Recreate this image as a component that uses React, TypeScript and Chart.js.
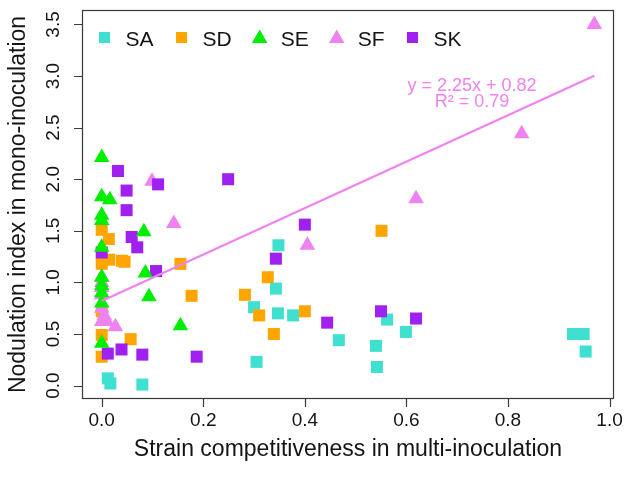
import React, { useEffect, useRef } from 'react';
import { Chart, registerables } from 'chart.js';

Chart.register(...registerables);

// ---------- data ----------
const SERIES_NAMES = ['SA', 'SD', 'SE', 'SF', 'SK'];
const SERIES_COLORS = ['#40E0D0', '#FFA500', '#00EE00', '#EE82EE', '#A020F0'];
const SERIES_SHAPES = ['rect', 'rect', 'triangle', 'triangle', 'rect'];

const SA_X = [0.012, 0.017, 0.08, 0.305, 0.30, 0.343, 0.348, 0.347, 0.377, 0.467, 0.54, 0.542, 0.562, 0.599, 0.928, 0.949, 0.953];
const SA_Y = [0.07, 0.02, 0.01, 0.23, 0.76, 0.94, 1.36, 0.70, 0.68, 0.44, 0.385, 0.18, 0.64, 0.52, 0.50, 0.50, 0.33];

const SD_X = [0, 0.014, 0.015, 0, 0.04, 0.045, 0.155, 0.177, 0, 0.057, 0, 0, 0.282, 0.327, 0.31, 0.339, 0.40, 0.551];
const SD_Y = [1.51, 1.42, 1.22, 1.18, 1.21, 1.20, 1.18, 0.87, 0.49, 0.45, 0.28, 0.72, 0.88, 1.05, 0.68, 0.50, 0.72, 1.50];

const SE_X = [0, 0, 0.016, 0, 0, 0.083, 0, 0.086, 0, 0, 0, 0.093, 0, 0.155, 0];
const SE_Y = [2.21, 1.83, 1.80, 1.65, 1.60, 1.49, 1.34, 1.09, 1.05, 0.97, 0.90, 0.86, 0.80, 0.58, 0.41];

const SF_X = [0, 0, 0, 0, 0, 0.005, 0, 0.01, 0.027, 0.099, 0.142, 0.405, 0.619, 0.827, 0.97];
const SF_Y = [1.05, 1.0, 0.95, 0.88, 0.75, 0.68, 0.62, 0.62, 0.57, 1.98, 1.57, 1.36, 1.81, 2.44, 3.5];

const SK_X = [0.032, 0.111, 0.049, 0.049, 0.059, 0.07, 0, 0.107, 0.249, 0.40, 0.343, 0.444, 0.55, 0.619, 0.012, 0.039, 0.08, 0.187];
const SK_Y = [2.08, 1.95, 1.89, 1.70, 1.44, 1.34, 1.29, 1.11, 2.0, 1.56, 1.23, 0.61, 0.72, 0.65, 0.31, 0.35, 0.30, 0.28];

const SERIES_X = [SA_X, SD_X, SE_X, SF_X, SK_X];
const SERIES_Y = [SA_Y, SD_Y, SE_Y, SF_Y, SK_Y];
const DRAW_ORDER = [4, 3, 0, 2, 1]; // lower = on top

const FIT_SLOPE = 2.25;
const FIT_INTERCEPT = 0.82;
const FIT_R2 = 0.79;
const FIT_X_RANGE = [0, 0.97];
const FIT_COLOR = '#EE82EE';

const X_TICKS = [0, 0.2, 0.4, 0.6, 0.8, 1.0];
const Y_TICKS = [0, 0.5, 1.0, 1.5, 2.0, 2.5, 3.0, 3.5];
const X_TITLE = 'Strain competitiveness in multi-inoculation';
const Y_TITLE = 'Nodulation index in mono-inoculation';

const X_MIN = -0.0388;
const X_MAX = 1.0088;
const Y_MIN = -0.13;
const Y_MAX = 3.64;

const FONT = '"Liberation Sans", Arial, sans-serif';
const INK = '#141414';

function drawMarker(ctx: CanvasRenderingContext2D, shape: string, x: number, y: number, r: number) {
  ctx.beginPath();
  if (shape === 'rect') {
    const s = Math.SQRT1_2 * r;
    ctx.rect(x - s, y - s, 2 * s, 2 * s);
  } else {
    ctx.moveTo(x, y - r);
    ctx.lineTo(x + r * Math.sin((2 * Math.PI) / 3), y + r / 2);
    ctx.lineTo(x - r * Math.sin((2 * Math.PI) / 3), y + r / 2);
    ctx.closePath();
  }
  ctx.fill();
}

const rPlotPlugin = {
  id: 'rPlot',
  afterDraw(chart: any) {
    const { ctx, chartArea: a } = chart;
    const xs = chart.scales.x;
    const ys = chart.scales.y;
    ctx.save();
    // box
    ctx.strokeStyle = '#3a3a3a';
    ctx.lineWidth = 1.2;
    ctx.strokeRect(a.left + 0.5, a.top + 0.5, a.right - a.left - 1, a.bottom - a.top - 1);
    // ticks
    ctx.beginPath();
    X_TICKS.forEach((v) => {
      const px = Math.round(xs.getPixelForValue(v)) + 0.5;
      ctx.moveTo(px, a.bottom);
      ctx.lineTo(px, a.bottom + 8);
    });
    Y_TICKS.forEach((v) => {
      const py = Math.round(ys.getPixelForValue(v)) + 0.5;
      ctx.moveTo(a.left, py);
      ctx.lineTo(a.left - 8, py);
    });
    ctx.stroke();

    // tick labels
    ctx.fillStyle = INK;
    ctx.font = `19px ${FONT}`;
    ctx.textAlign = 'center';
    ctx.textBaseline = 'middle';
    X_TICKS.forEach((v) => {
      ctx.fillText(v.toFixed(1), xs.getPixelForValue(v), a.bottom + 22);
    });
    Y_TICKS.forEach((v) => {
      ctx.save();
      ctx.translate(a.left - 28.5, ys.getPixelForValue(v));
      ctx.rotate(-Math.PI / 2);
      ctx.fillText(v.toFixed(1), 0, 0);
      ctx.restore();
    });

    // axis titles
    ctx.font = `23px ${FONT}`;
    ctx.fillText(X_TITLE, (a.left + a.right) / 2, a.bottom + 51);
    ctx.save();
    ctx.translate(a.left - 63, (a.top + a.bottom) / 2);
    ctx.rotate(-Math.PI / 2);
    ctx.fillText(Y_TITLE, 0, 0);
    ctx.restore();

    // legend
    ctx.font = `21px ${FONT}`;
    ctx.textAlign = 'left';
    let mx = 104.5;
    SERIES_NAMES.forEach((name, i) => {
      ctx.fillStyle = SERIES_COLORS[i];
      drawMarker(ctx, SERIES_SHAPES[i], mx, SERIES_SHAPES[i] === 'rect' ? 37.5 : 38.5, SERIES_SHAPES[i] === 'rect' ? 7.8 : 9);
      ctx.fillStyle = INK;
      const tx = mx + 21;
      ctx.fillText(name, tx, 40);
      mx = tx + ctx.measureText(name).width + 28;
    });

    // fit annotation
    ctx.fillStyle = FIT_COLOR;
    ctx.font = `18px ${FONT}`;
    ctx.textAlign = 'center';
    ctx.fillText(`y = ${FIT_SLOPE.toFixed(2)}x + ${FIT_INTERCEPT.toFixed(2)}`, 472, 86);
    ctx.fillText(`R\u00B2 = ${FIT_R2.toFixed(2)}`, 472, 102);
    ctx.restore();
  },
};

export default function App() {
  const canvasRef = useRef<HTMLCanvasElement | null>(null);

  useEffect(() => {
    const canvas = canvasRef.current;
    if (!canvas) return;

    const pointSets = SERIES_NAMES.map((name, i) => ({
      label: name,
      data: SERIES_X[i].map((x, j) => ({ x, y: SERIES_Y[i][j] })),
      backgroundColor: SERIES_COLORS[i],
      borderColor: SERIES_COLORS[i],
      pointStyle: SERIES_SHAPES[i],
      pointRadius: SERIES_SHAPES[i] === 'rect' ? 8.5 : 9,
      pointBorderWidth: 0,
      showLine: false,
      order: DRAW_ORDER[i],
    }));

    const fitSet = {
      label: 'fit',
      data: FIT_X_RANGE.map((x) => ({ x, y: FIT_SLOPE * x + FIT_INTERCEPT })),
      borderColor: FIT_COLOR,
      backgroundColor: FIT_COLOR,
      borderWidth: 2,
      pointRadius: 0,
      showLine: true,
      order: -1,
    };

    const chart = new Chart(canvas, {
      type: 'scatter',
      data: { datasets: [...pointSets, fitSet] as any },
      options: {
        responsive: false,
        animation: false,
        devicePixelRatio: 1,
        layout: { padding: { left: 82, right: 24, top: 10, bottom: 82 } },
        plugins: { legend: { display: false }, tooltip: { enabled: false } },
        scales: {
          x: { type: 'linear', min: X_MIN, max: X_MAX, display: false },
          y: { type: 'linear', min: Y_MIN, max: Y_MAX, display: false },
        },
      },
      plugins: [rPlotPlugin],
    });
    return () => chart.destroy();
  }, []);

  return (
    <div style={{ position: 'absolute', left: 0, top: 0, width: 638, height: 481, background: '#fff' }}>
      <canvas ref={canvasRef} width={638} height={481} style={{ display: 'block' }} />
    </div>
  );
}
